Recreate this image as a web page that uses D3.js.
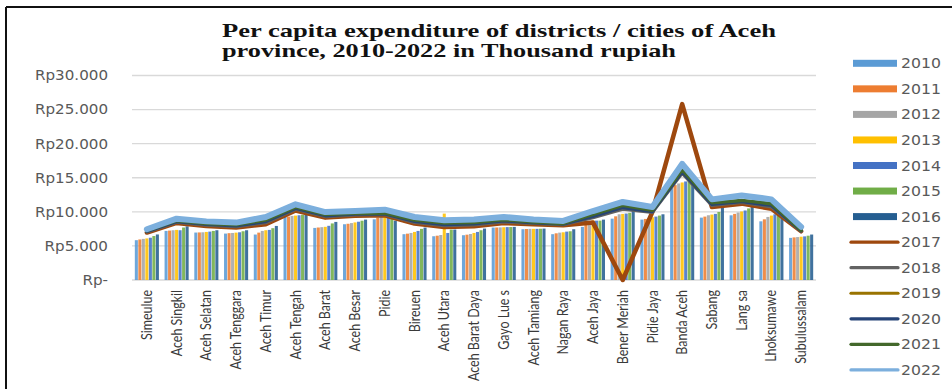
<!DOCTYPE html>
<html><head><meta charset="utf-8">
<script src="https://cdn.jsdelivr.net/npm/d3@7"></script>
<style>body{margin:0;background:#fff;} svg{display:block;}</style>
</head><body>
<svg id="chart" width="952" height="389"></svg>
<script>
const districts = ["Simeulue","Aceh Singkil","Aceh Selatan","Aceh Tenggara","Aceh Timur","Aceh Tengah","Aceh Barat","Aceh Besar","Pidie","Bireuen","Aceh Utara","Aceh Barat Daya","Gayo Lue s","Aceh Tamiang","Nagan Raya","Aceh Jaya","Bener Meriah","Pidie Jaya","Banda Aceh","Sabang","Lang sa","Lhoksumawe","Subulussalam"];
const barYears = ["2010","2011","2012","2013","2014","2015","2016"];
const lineYears = ["2017","2018","2019","2020","2021","2022"];
const yTicks = [0,5000,10000,15000,20000,25000,30000];
const yTickLabels = ["Rp-","Rp5.000","Rp10.000","Rp15.000","Rp20.000","Rp25.000","Rp30.000"];

const v2010 = [5840,7200,6960,6810,6670,9240,7640,8180,8900,6720,6420,6570,7690,7450,6720,7790,9000,8860,13730,9150,9490,8610,6180];
const v2011 = [5950,7250,6980,6870,6950,9300,7700,8250,9150,6800,6500,6650,7700,7480,6850,8270,9340,8960,13920,9300,9700,8900,6250];
const v2012 = [6030,7300,7000,6900,7200,9400,7750,8350,9250,6900,6600,6750,7720,7500,6950,8490,9640,9100,14160,9500,9900,9250,6300];
const v2013 = [6100,7350,7050,6950,7300,9450,7800,8450,9300,7050,9740,6900,7740,7500,7000,8710,9700,9200,14310,9600,10050,9450,6350];
const v2014 = [6200,7300,7100,7000,7350,9500,7950,8550,9200,7200,6900,7050,7760,7500,7100,8710,9750,9300,14460,9700,10200,9640,6400];
const v2015 = [6450,7700,7200,7150,7600,9560,8300,8700,9000,7500,7400,7300,7770,7520,7150,8710,9850,9450,14850,9980,10500,9750,6500];
const v2016 = [6680,7880,7300,7300,7930,9640,8520,8860,8700,7690,7400,7540,7790,7540,7450,8860,10120,9640,14360,10700,10800,9600,6670];

const v2017 = [6960,8370,7930,7690,8180,10200,9150,9440,9490,8270,7790,7880,8370,8180,8030,8420,0,10000,25800,10700,11200,10460,7150];
const v2018 = [7080,8500,8080,7850,8430,10400,9330,9580,9630,8480,8010,8110,8560,8310,8140,9150,10400,9950,15700,10950,11390,10760,7210];
const v2019 = [7160,8600,8190,7980,8610,10550,9460,9690,9730,8640,8180,8280,8710,8400,8220,9400,10700,10080,15950,11150,11530,10980,7260];
const v2020 = [7140,8580,8170,7960,8580,10520,9440,9670,9710,8610,8150,8250,8680,8390,8210,9350,10650,10050,15900,11120,11500,10950,7250];
const v2021 = [7250,8700,8300,8100,8800,10700,9600,9800,9830,8800,8350,8450,8850,8500,8300,9640,10960,10220,16200,11340,11680,11200,7300];
const v2022 = [7440,9000,8600,8420,9240,11100,9970,10120,10320,9240,8760,8860,9240,8860,8660,10120,11450,10700,17040,11830,12410,11830,7790];

const barSeries = [v2010,v2011,v2012,v2013,v2014,v2015,v2016];
const lineSeries = [v2017,v2018,v2019,v2020,v2021,v2022];
const barColors = ["#5B9BD5","#ED7D31","#A5A5A5","#FFC000","#4472C4","#70AD47","#255E91"];
const lineColors = ["#9E480E","#636363","#997300","#264478","#43682B","#7CAFDD"];
const lineWidths = [4.5,3.5,3.5,3.5,3.5,6];

const svg = d3.select("#chart");
// frame
svg.append("line").attr("x1",6).attr("x2",952).attr("y1",7).attr("y2",7).attr("stroke","#111").attr("stroke-width",2);
svg.append("line").attr("x1",6).attr("x2",6).attr("y1",7).attr("y2",389).attr("stroke","#111").attr("stroke-width",2);

const x0 = d3.scaleBand().domain(districts).range([132,816]).paddingInner(0.19).paddingOuter(0.095);
const x1 = d3.scaleBand().domain(barYears).range([0,x0.bandwidth()]).paddingInner(0.13);
const y = d3.scaleLinear().domain([0,30000]).range([280,75.5]);
const xc = d => x0(d) + x0.bandwidth()/2;

// gridlines
svg.append("g").selectAll("line").data(yTicks).join("line")
  .attr("x1",132).attr("x2",816).attr("y1",d=>y(d)).attr("y2",d=>y(d))
  .attr("stroke","#d9d9d9").attr("stroke-width",1.3);

// y labels
svg.append("g").selectAll("text").data(yTicks).join("text")
  .attr("transform",d=>`translate(108,${y(d)}) scale(1.12,1)`)
  .attr("text-anchor","end").attr("dy","0.36em")
  .attr("font-family","DejaVu Sans").attr("font-size",13.5).attr("fill","#595959")
  .text((d,i)=>yTickLabels[i]);

// bars
barSeries.forEach((vals,si)=>{
  svg.append("g").selectAll("rect").data(districts).join("rect")
    .attr("x",d=>x0(d)+x1(barYears[si]))
    .attr("width",x1.bandwidth())
    .attr("y",(d,i)=>y(vals[i]))
    .attr("height",(d,i)=>y(0)-y(vals[i]))
    .attr("fill",barColors[si]).attr("opacity",0.88);
});

// lines
const line = d3.line().x((d,i)=>xc(districts[i])).y(d=>y(d));
lineSeries.forEach((vals,si)=>{
  svg.append("path").datum(vals).attr("d",line)
    .attr("fill","none").attr("stroke",lineColors[si]).attr("stroke-width",lineWidths[si])
    .attr("stroke-linejoin","round").attr("stroke-linecap","round");
});

// x labels
svg.append("g").selectAll("text").data(districts).join("text")
  .attr("transform",d=>`translate(${xc(d)},290) rotate(-90) scale(0.86,1)`)
  .attr("text-anchor","end").attr("dy","0.35em")
  .attr("font-family","Lato").attr("font-size",14.5).attr("fill","#3a3a3a")
  .text(d=>d);

// title
const title = svg.append("g").attr("font-family","Liberation Serif").attr("font-weight","bold").attr("font-size",19).attr("fill","#111");
title.append("text").attr("x",222).attr("y",37).attr("textLength",554).attr("lengthAdjust","spacingAndGlyphs").text("Per capita expenditure of districts / cities of Aceh");
title.append("text").attr("x",222).attr("y",57).attr("textLength",454).attr("lengthAdjust","spacingAndGlyphs").text("province, 2010-2022 in Thousand rupiah");

// legend
const legendYears = barYears.concat(lineYears);
const lg = svg.append("g");
legendYears.forEach((yr,i)=>{
  const ly = 63.3 + 25.55*i;
  if(i<7){
    lg.append("rect").attr("x",853).attr("y",ly-3.5).attr("width",44).attr("height",7).attr("fill",barColors[i]);
  } else {
    lg.append("line").attr("x1",851).attr("x2",898).attr("y1",ly).attr("y2",ly)
      .attr("stroke",lineColors[i-7]).attr("stroke-width",3.2).attr("stroke-linecap","round");
  }
  lg.append("text").attr("transform",`translate(901,${ly}) scale(1.12,1)`).attr("dy","0.36em")
    .attr("font-family","DejaVu Sans").attr("font-size",14).attr("fill","#595959").text(yr);
});
</script>
</body></html>
